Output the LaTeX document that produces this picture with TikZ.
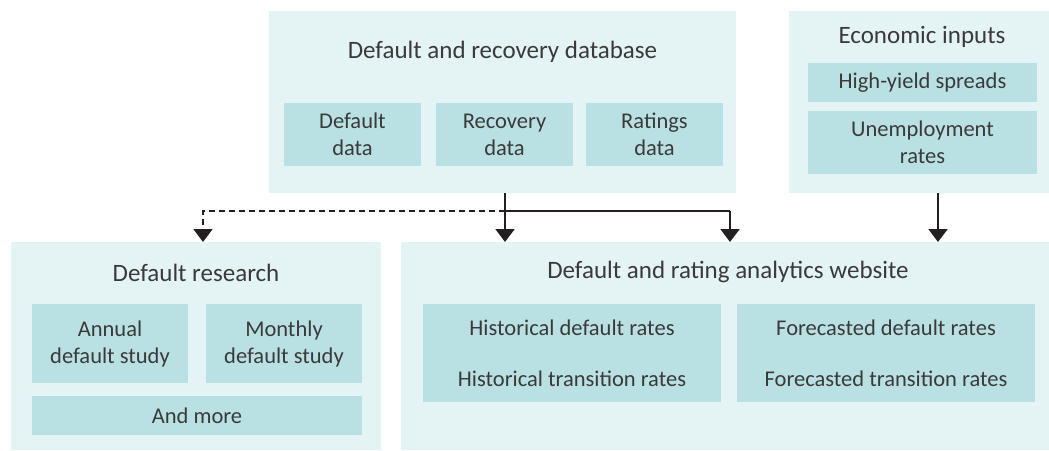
\documentclass[tikz,border=0pt]{standalone}
\usepackage{fontspec}
\setmainfont{Carlito}
\usetikzlibrary{arrows.meta}
\definecolor{outerbg}{HTML}{E4F3F3}
\definecolor{innerbg}{HTML}{B9E1E3}
\definecolor{txt}{HTML}{3A3A3A}
\definecolor{arr}{HTML}{231F20}
\begin{document}
\begin{tikzpicture}[x=1pt,y=-1pt,
  outerbox/.style={fill=outerbg, draw=none, inner sep=0pt, anchor=north west},
  innerbox/.style={fill=innerbg, draw=none, inner sep=0pt, anchor=center, align=center, text=txt, font=\fontsize{22.5}{27}\selectfont},
  titletext/.style={text=txt, font=\fontsize{25}{28}\selectfont, inner sep=0pt},
  flow/.style={draw=arr, line width=2pt, -{Triangle[width=19pt,length=13pt]}},
  flowline/.style={draw=arr, line width=2pt},
  dflow/.style={draw=arr, line width=2pt, dash pattern=on 6pt off 4pt, -{Triangle[width=19pt,length=13pt]}}
]
\useasboundingbox (0,0) rectangle (1049,450);
% outer boxes
\node[outerbox, minimum width=467pt, minimum height=182pt] (db) at (269,11) {};
\node[outerbox, minimum width=260pt, minimum height=182pt] (econ) at (789,11) {};
\node[outerbox, minimum width=370pt, minimum height=208pt] (res) at (11,242) {};
\node[outerbox, minimum width=648pt, minimum height=208pt] (web) at (401,242) {};
% titles
\node[titletext] (dbt) at (502.5,52) {Default and recovery database};
\node[titletext] (econt) at (922,37) {Economic inputs};
\node[titletext] (rest) at (196,273) {Default research};
\node[titletext] (webt) at (728,272) {Default and rating analytics website};
% inner boxes
\node[innerbox, minimum width=137pt, minimum height=63pt] (dd) at (352.5,134.5) {Default\\data};
\node[innerbox, minimum width=137pt, minimum height=63pt] (rd) at (504.5,134.5) {Recovery\\data};
\node[innerbox, minimum width=137pt, minimum height=63pt] (rtd) at (654.5,134.5) {Ratings\\data};
\node[innerbox, minimum width=229pt, minimum height=39pt] (hy) at (922.5,82.5) {High-yield spreads};
\node[innerbox, minimum width=229pt, minimum height=63pt] (ue) at (922.5,142.5) {Unemployment\\rates};
\node[innerbox, minimum width=156pt, minimum height=79pt] (ann) at (110,343.5) {Annual\\default study};
\node[innerbox, minimum width=156pt, minimum height=79pt] (mon) at (284,343.5) {Monthly\\default study};
\node[innerbox, minimum width=330pt, minimum height=39pt] (more) at (197,415.5) {And more};
\node[innerbox, minimum width=298pt, minimum height=98pt, font=\fontsize{22.5}{51}\selectfont] (hist) at (572,353) {Historical default rates\\Historical transition rates};
\node[innerbox, minimum width=298pt, minimum height=98pt, font=\fontsize{22.5}{51}\selectfont] (fore) at (886,353) {Forecasted default rates\\Forecasted transition rates};
% connectors
\coordinate (split) at (505,211);
\coordinate (rightturn) at (730,211);
\coordinate (leftturn) at (203,211);
\draw[flow] (db.south -| split) -- (web.north -| split);
\draw[flowline] (split) -- (rightturn);
\draw[flow] (rightturn) -- (web.north -| rightturn);
\draw[dflow] (split) -- (leftturn) -- (res.north -| leftturn);
\draw[flow] (econ.south -| 938,0) -- (web.north -| 938,0);
\end{tikzpicture}
\end{document}
